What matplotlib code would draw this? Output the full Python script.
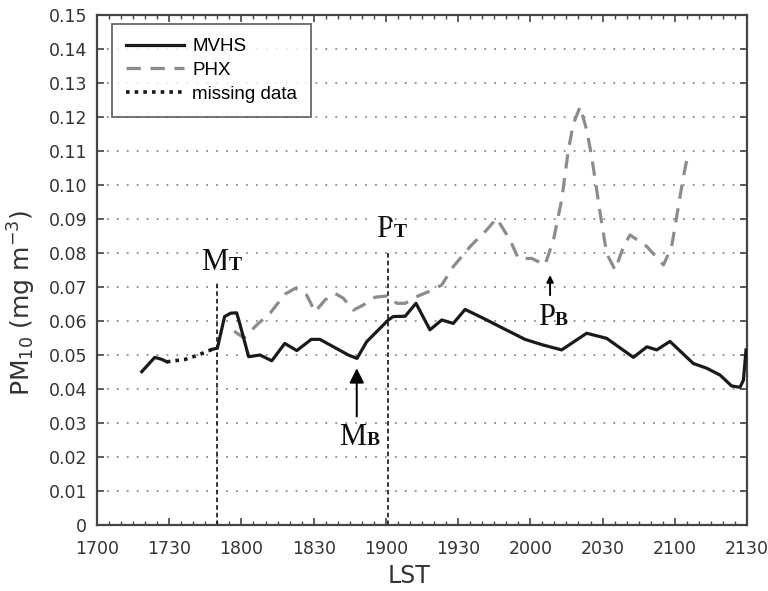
import numpy as np
import matplotlib
matplotlib.use("Agg")
import matplotlib.pyplot as plt
from matplotlib.ticker import MultipleLocator, FixedLocator

# ---- data (time in minutes after 17:00 LST) ----
mvhs_t1 = [18.6, 24.0, 27.0, 29.0]
mvhs_y1 = [0.0451, 0.0493, 0.0487, 0.0480]

missing_t = [29.0, 36.6, 42.1, 48.0]
missing_y = [0.0480, 0.0487, 0.0500, 0.0517]

mvhs_t2 = [48.0, 50.0, 53.0, 55.5, 58.0, 59.0, 63.0, 67.7, 72.6, 78.0, 83.0,
           89.0, 92.6, 104.4, 108.0, 112.0, 121.0, 123.0, 128.0, 132.5, 138.3,
           143.2, 148.0, 152.9, 160.5, 168.8, 177.8, 185.0, 193.0, 203.4,
           211.7, 222.8, 228.4, 232.5, 238.0, 247.7, 253.3, 258.8, 263.6,
           267.1, 268.5, 269.6]
mvhs_y2 = [0.0517, 0.0520, 0.0613, 0.0623, 0.0624, 0.0600, 0.0495, 0.0500,
           0.0483, 0.0534, 0.0513, 0.0546, 0.0546, 0.0500, 0.0490, 0.0539,
           0.0603, 0.0613, 0.0614, 0.0652, 0.0574, 0.0603, 0.0593, 0.0634,
           0.0608, 0.0578, 0.0546, 0.0530, 0.0515, 0.0564, 0.0549, 0.0493,
           0.0524, 0.0515, 0.0540, 0.0475, 0.0461, 0.0441, 0.0409, 0.0405,
           0.0426, 0.0515]

phx_t = [57.0, 61.0, 66.3, 71.9, 78.1, 82.3, 87.1, 90.6, 94.7, 98.9, 102.3,
         106.5, 110.6, 115.5, 121.0, 124.5, 128.0, 133.5, 138.3, 143.2, 148.0,
         155.0, 161.9, 166.0, 171.6, 175.0, 180.6, 186.1, 189.6, 193.0, 195.8,
         197.9, 200.7, 203.4, 205.5, 209.0, 211.7, 215.2, 218.7, 221.4, 228.4,
         235.3, 238.7, 241.5, 243.6, 245.7]
phx_y = [0.0570, 0.0550, 0.0588, 0.0623, 0.0679, 0.0696, 0.0676, 0.0627,
         0.0662, 0.0681, 0.0667, 0.0632, 0.0647, 0.0670, 0.0674, 0.0652,
         0.0652, 0.0674, 0.0688, 0.0706, 0.0760, 0.0819, 0.0868, 0.0902,
         0.0838, 0.0784, 0.0784, 0.0765, 0.0838, 0.0956, 0.1103, 0.1181,
         0.1230, 0.1162, 0.1083, 0.0917, 0.0799, 0.0750, 0.0819, 0.0853,
         0.0819, 0.0765, 0.0819, 0.0937, 0.1025, 0.1098]

x_ticks = [0, 30, 60, 90, 120, 150, 180, 210, 240, 270]
x_tick_labels = ["1700", "1730", "1800", "1830", "1900", "1930", "2000",
                 "2030", "2100", "2130"]
y_ticks = [round(0.01 * i, 2) for i in range(16)]
y_tick_labels = ["0"] + ["%.2f" % v for v in y_ticks[1:]]

# vertical transition markers (time, top value)
vline_t = [50.0, 121.0]
vline_top = [0.0712, 0.0809]

# labels: (main letter, subscript, time, baseline value, white box)
labels = [("M", "T", 54.5, 0.0750, True),
          ("P", "T", 123.1, 0.0848, True),
          ("M", "B", 112.0, 0.0235, False),
          ("P", "B", 190.3, 0.0588, False)]

# arrows: (time, tail value, tip value)
arrows = [(107.9, 0.0319, 0.0461), (188.2, 0.0676, 0.0735)]

# ---- figure ----
fig = plt.figure(figsize=(7.68, 5.91), dpi=100)
ax = fig.add_axes([97 / 768, 66 / 591, 650 / 768, 510 / 591])

ax.set_xlim(0, 270)
ax.set_ylim(0, 0.15)

# grid
for yv in y_ticks[1:-1]:
    ax.axhline(yv, color="#8a8a8a", lw=1.3, ls=(0, (1, 4.5)), zorder=0)

# vertical dashed lines
for t, top in zip(vline_t, vline_top):
    ax.plot([t, t], [0, top], color="black", lw=1.1, ls=(0, (3, 2)), zorder=2)

# series
ax.plot(mvhs_t1, mvhs_y1, color="#1a1a1a", lw=2.3, zorder=4,
        solid_joinstyle="round")
l1, = ax.plot(mvhs_t2, mvhs_y2, color="#1a1a1a", lw=2.3, zorder=4,
              solid_joinstyle="round", label="MVHS")
l2, = ax.plot(phx_t, phx_y, color="#8c8c8c", lw=2.3, ls=(0, (4.5, 3)),
              zorder=3, label="PHX")
l3, = ax.plot(missing_t, missing_y, color="#1a1a1a", lw=2.6,
              ls=(0, (1, 1.4)), zorder=4, label="missing data")

# text labels with small-cap subscripts
for main, sub, t, yv, box in labels:
    bb = dict(facecolor="white", edgecolor="none", pad=1.5) if box else None
    ax.text(t, yv, main, ha="right", va="baseline", fontsize=22,
            family="Liberation Serif", color="#111111", zorder=5, bbox=bb)
    ax.text(t, yv, sub, ha="left", va="baseline", fontsize=14,
            family="Liberation Serif", fontweight="bold", color="#111111",
            zorder=5, bbox=bb)

for t, y0, y1 in arrows:
    big = (y1 - y0) > 0.01
    ax.annotate("", xy=(t, y1), xytext=(t, y0),
                arrowprops=dict(arrowstyle="-|>", color="black",
                                lw=1.4,
                                mutation_scale=22 if big else 10,
                                shrinkA=0, shrinkB=0), zorder=5)

# ticks
ax.xaxis.set_major_locator(FixedLocator(x_ticks))
ax.set_xticklabels(x_tick_labels)
ax.xaxis.set_minor_locator(MultipleLocator(5))
ax.yaxis.set_major_locator(FixedLocator(y_ticks))
ax.set_yticklabels(y_tick_labels)
ax.tick_params(axis="both", which="major", direction="in", length=5,
               width=1.2, color="#444444", labelsize=12.5,
               labelcolor="#333333", top=True, right=True)
ax.tick_params(axis="x", which="major", pad=11)
ax.tick_params(axis="y", which="major", pad=7)
ax.tick_params(axis="x", which="minor", direction="in", length=3,
               width=1.0, color="#444444", top=True)

for s in ax.spines.values():
    s.set_color("#444444")
    s.set_linewidth(1.6)

ax.set_xlabel("LST", fontsize=17, color="#333333")
ax.set_ylabel(r"PM$_{10}$ (mg m$^{-3}$)", fontsize=18, color="#333333")
ax.xaxis.set_label_coords((409 - 97) / 650, -(576 - 525) / 510)
ax.yaxis.set_label_coords(-(97 - 22) / 650, (525 - 303) / 510)
ax.xaxis.label.set_va("center")
ax.yaxis.label.set_va("center")

leg = ax.legend(handles=[l1, l2, l3], loc="upper left",
                bbox_to_anchor=(0.0226, 0.982), borderaxespad=0,
                prop={"family": "Liberation Sans", "size": 13.5},
                handlelength=3.1, handletextpad=0.45, labelspacing=0.35,
                borderpad=0.75, frameon=True, fancybox=False)
leg.get_frame().set_edgecolor("#444444")
leg.get_frame().set_linewidth(1.3)
leg.set_zorder(6)

fig.savefig("out.png", dpi=100)
